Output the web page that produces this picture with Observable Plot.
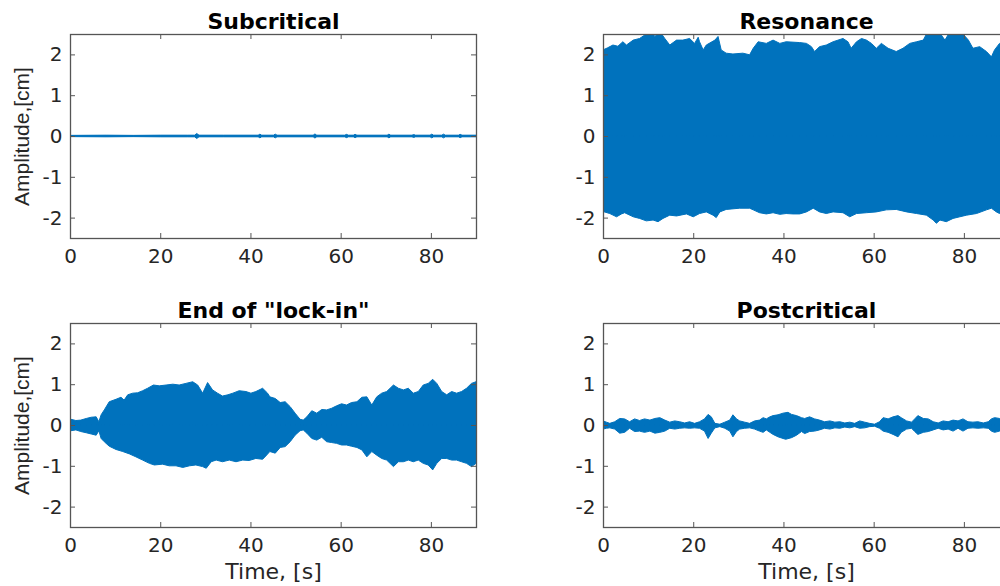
<!DOCTYPE html>
<html>
<head>
<meta charset="utf-8">
<script src="https://cdn.jsdelivr.net/npm/d3@7"></script>
<script src="https://cdn.jsdelivr.net/npm/@observablehq/plot@0.6"></script>
<style>
  html, body { margin: 0; padding: 0; background: #fff; overflow: hidden; }
  #fig { position: relative; width: 1000px; height: 586px; overflow: hidden; background: #fff; }
  #fig svg { position: absolute; }
</style>
</head>
<body>
<div id="fig"></div>
<script>
// Vibration records of the cylinder: upper and lower envelopes of the
// displacement signal, [time s, amplitude cm].

const panelTitles = ["Subcritical", "Resonance", "End of \"lock-in\"", "Postcritical"];
const xTicks = [0, 20, 40, 60, 80];
const yTicks = [-2, -1, 0, 1, 2];

const subcriticalUpper = [
  [0, 0.015], [8, 0.02], [14, 0.015], [20, 0.02], [26, 0.02], [27.6, 0.02], [28.1, 0.06], [28.6, 0.02],
  [34, 0.02], [41.7, 0.02], [42.1, 0.045], [42.5, 0.02], [45.1, 0.02], [45.5, 0.045], [45.9, 0.02],
  [53.9, 0.02], [54.3, 0.05], [54.7, 0.02], [60.9, 0.02], [61.3, 0.04], [61.7, 0.02], [62.8, 0.02],
  [63.2, 0.04], [63.6, 0.02], [70.3, 0.02], [70.7, 0.045], [71.1, 0.02], [75.8, 0.02], [76.2, 0.035],
  [76.6, 0.02], [79.8, 0.02], [80.2, 0.045], [80.6, 0.02], [82.4, 0.02], [82.8, 0.045], [83.2, 0.02],
  [86.1, 0.02], [86.5, 0.04], [86.9, 0.02], [90, 0.02]
];
const subcriticalLower = [
  [0, -0.015], [8, -0.02], [14, -0.015], [20, -0.02], [26, -0.02], [27.6, -0.02], [28.1, -0.06], [28.6, -0.02],
  [34, -0.02], [41.7, -0.02], [42.1, -0.045], [42.5, -0.02], [45.1, -0.02], [45.5, -0.045], [45.9, -0.02],
  [53.9, -0.02], [54.3, -0.05], [54.7, -0.02], [60.9, -0.02], [61.3, -0.04], [61.7, -0.02], [62.8, -0.02],
  [63.2, -0.04], [63.6, -0.02], [70.3, -0.02], [70.7, -0.045], [71.1, -0.02], [75.8, -0.02], [76.2, -0.035],
  [76.6, -0.02], [79.8, -0.02], [80.2, -0.045], [80.6, -0.02], [82.4, -0.02], [82.8, -0.045], [83.2, -0.02],
  [86.1, -0.02], [86.5, -0.04], [86.9, -0.02], [90, -0.02]
];

const resonanceUpper = [
  [0, 2.11], [1, 2.16], [2.2, 2.23], [3.3, 2.2], [4.4, 2.31], [5.2, 2.23], [6.7, 2.35], [8.1, 2.39],
  [9.6, 2.5], [10.7, 2.56], [11.5, 2.44], [12.6, 2.56], [13.7, 2.39], [14.8, 2.23], [16.3, 2.35],
  [17.7, 2.35], [19.2, 2.39], [20.3, 2.27], [21.1, 2.42], [21.4, 2.31], [22.2, 2.11], [22.9, 2.23],
  [24.8, 2.35], [25.5, 2.44], [26.2, 2.11], [27.3, 2.03], [28.8, 2.01], [31, 2.03], [32.5, 1.99],
  [33.3, 2.15], [34.4, 2.31], [36.2, 2.27], [37.7, 2.35], [39.2, 2.27], [40.6, 2.31], [43.6, 2.29],
  [45.1, 2.27], [46.2, 2.19], [46.9, 2.07], [48, 2.19], [49.5, 2.23], [51, 2.31], [53.2, 2.39],
  [54.3, 2.31], [55, 2.15], [56.2, 2.31], [57.3, 2.39], [58.4, 2.35], [59.5, 2.27], [60.6, 2.15],
  [61.7, 2.27], [63.2, 2.15], [65, 2.07], [66.5, 2.15], [68, 2.27], [69.5, 2.31], [71, 2.35],
  [71.7, 2.5], [73.2, 2.58], [74.7, 2.52], [75.8, 2.35], [76.5, 2.48], [78, 2.52], [79.8, 2.5],
  [81, 2.35], [82, 2.15], [83.5, 2.19], [85, 2.07], [86.1, 1.94], [86.8, 2.11], [87.9, 2.27], [90, 2.25]
];
const resonanceLower = [
  [0, -1.85], [1.5, -1.9], [3, -1.98], [4.1, -1.91], [4.8, -1.88], [6.7, -1.98], [8.1, -2.02],
  [9.6, -2.08], [11.1, -2.06], [12.2, -2.1], [13.3, -2.02], [14.8, -1.94], [16.3, -1.96], [18.5, -1.91],
  [20, -1.98], [21.4, -1.9], [22.9, -1.86], [24.4, -1.94], [25.1, -2], [25.9, -1.86], [27.3, -1.8],
  [30.3, -1.77], [32.5, -1.77], [33.3, -1.81], [34.7, -1.88], [36.2, -1.91], [37.7, -1.88], [39.2, -1.92],
  [40.6, -1.9], [42.1, -1.91], [43.6, -1.91], [45.1, -1.86], [46.6, -1.77], [48, -1.86], [49.5, -1.9],
  [51, -1.86], [53.2, -1.88], [54.7, -1.98], [56.2, -1.9], [58.4, -1.88], [60.6, -1.86], [62.8, -1.81],
  [65, -1.8], [67.3, -1.86], [69.5, -1.9], [71.7, -1.94], [73.2, -2.06], [73.9, -2.14], [74.7, -2.06],
  [76.1, -2.1], [77.6, -2.02], [79.1, -1.98], [80.6, -1.94], [82.8, -1.9], [85, -1.81], [86.1, -1.77],
  [87.2, -1.86], [87.9, -1.9], [90, -1.88]
];

const lockInUpper = [
  [0, 0.14], [0.2, 0.14], [1.3, 0.11], [2.4, 0.12], [3.6, 0.16], [4.7, 0.19], [5.8, 0.2], [6.4, 0.08],
  [6.9, 0.25], [7.6, 0.37], [8.7, 0.57], [10.2, 0.63], [11.3, 0.68], [12, 0.61], [12.8, 0.74],
  [13.9, 0.78], [15, 0.79], [16.1, 0.84], [17.2, 0.9], [18.5, 0.98], [19.8, 0.96], [21.3, 0.98],
  [22.8, 1], [24.2, 0.98], [25.7, 1.02], [27.2, 1.06], [28.3, 0.98], [29.4, 0.78], [30.5, 1.04],
  [31.6, 0.86], [32.7, 0.78], [33.8, 0.71], [35, 0.74], [36.1, 0.78], [37.5, 0.84], [39, 0.82],
  [40.1, 0.78], [41.2, 0.82], [42.7, 0.9], [43.8, 0.78], [44.3, 0.69], [45.5, 0.65], [46.6, 0.55],
  [47.7, 0.57], [48.8, 0.45], [49.9, 0.29], [51, 0.14], [51.7, 0.12], [52.5, 0.2], [53.6, 0.35],
  [54.7, 0.29], [55.8, 0.38], [56.9, 0.37], [58, 0.41], [59.1, 0.47], [60.2, 0.52], [61.3, 0.49],
  [62.4, 0.55], [63.6, 0.57], [64.7, 0.68], [65.8, 0.69], [66.9, 0.49], [68, 0.69], [69.1, 0.78],
  [70.2, 0.82], [71.7, 0.98], [72.8, 0.9], [73.9, 0.86], [75, 0.9], [76.1, 0.78], [77.2, 0.82],
  [78.3, 0.98], [79.4, 1.02], [80.4, 1.12], [81.3, 1.02], [82.4, 0.82], [83.5, 0.74], [84.6, 0.82],
  [85.7, 0.78], [86.8, 0.82], [87.9, 0.9], [89, 1.02], [90, 1.06]
];
const lockInLower = [
  [0, -0.14], [0.2, -0.14], [1.3, -0.12], [2.4, -0.16], [3.6, -0.19], [4.7, -0.22], [5.8, -0.25],
  [6.4, -0.14], [6.9, -0.33], [7.6, -0.41], [8.7, -0.52], [10.2, -0.6], [11.7, -0.65], [13.2, -0.71],
  [14.6, -0.78], [16.1, -0.86], [17.6, -0.94], [18.7, -0.98], [20.5, -0.96], [22, -1], [23.5, -1],
  [25, -1.04], [26.5, -1], [27.9, -0.98], [29.4, -1.02], [30.2, -1.06], [31.3, -0.9], [32.4, -0.86],
  [33.8, -0.9], [35.3, -0.86], [36.8, -0.9], [38.3, -0.86], [39.7, -0.87], [41.2, -0.82], [42.7, -0.84],
  [43.4, -0.76], [44.3, -0.65], [45.5, -0.69], [46.6, -0.55], [47.7, -0.53], [48.8, -0.41], [49.9, -0.25],
  [51, -0.14], [51.7, -0.12], [52.5, -0.2], [53.6, -0.33], [54.7, -0.37], [55.8, -0.3], [56.9, -0.41],
  [58, -0.43], [59.1, -0.45], [60.2, -0.49], [61.3, -0.49], [62.4, -0.52], [63.6, -0.55], [64.7, -0.61],
  [65.8, -0.78], [66.9, -0.65], [68, -0.74], [69.1, -0.82], [70.2, -0.86], [71.7, -1.02], [72.8, -0.9],
  [73.9, -0.9], [75, -0.86], [76.1, -0.9], [77.2, -0.86], [78.3, -0.94], [79.4, -0.98], [80.4, -1.1],
  [81.3, -0.94], [82.4, -0.82], [83.5, -0.82], [84.6, -0.86], [85.7, -0.86], [86.8, -0.9], [87.9, -0.94],
  [89, -1.02], [90, -0.94]
];

const postcriticalUpper = [
  [0, 0.1], [0.75, 0.07], [1.5, 0.04], [2.6, 0.08], [3.7, 0.16], [4.8, 0.15], [5.9, 0.08], [7, 0.15],
  [8.1, 0.11], [9.2, 0.15], [10.4, 0.12], [11.5, 0.16], [12.6, 0.18], [13.7, 0.12], [14.8, 0.07],
  [15.9, 0.1], [17, 0.08], [18.1, 0.05], [19.2, 0.08], [20.3, 0.04], [21.4, 0.08], [22.5, 0.15],
  [23.3, 0.26], [24, 0.2], [24.8, 0.04], [25.9, 0.02], [27, 0.07], [28.1, 0.12], [28.8, 0.25],
  [29.6, 0.15], [30.3, 0.1], [31.4, 0.07], [32.5, 0.04], [33.6, 0.1], [34.7, 0.12], [35.5, 0.18],
  [36.2, 0.15], [37, 0.2], [37.7, 0.23], [38.8, 0.25], [39.9, 0.29], [41, 0.31], [41.8, 0.26],
  [42.9, 0.23], [44, 0.18], [44.7, 0.16], [45.8, 0.2], [46.9, 0.15], [48, 0.12], [49.1, 0.08],
  [50.3, 0.1], [51.4, 0.07], [52.5, 0.08], [53.6, 0.05], [54.7, 0.07], [55.8, 0.04], [56.9, 0.1],
  [58, 0.07], [59.1, 0.04], [60.2, 0.02], [61.3, 0.08], [62.1, 0.18], [63.2, 0.15], [64.3, 0.2],
  [65.4, 0.23], [66.1, 0.18], [67.3, 0.1], [68.4, 0.07], [69.1, 0.15], [69.8, 0.23], [71, 0.16],
  [72.1, 0.15], [73.2, 0.08], [74.3, 0.05], [75.4, 0.1], [76.5, 0.08], [77.6, 0.12], [78.7, 0.1],
  [79.8, 0.15], [80.9, 0.08], [82, 0.07], [83.1, 0.08], [84.3, 0.05], [85.4, 0.08], [86.1, 0.15],
  [86.8, 0.18], [87.9, 0.16], [90, 0.12]
];
const postcriticalLower = [
  [0, -0.1], [0.75, -0.08], [1.5, -0.07], [2.6, -0.1], [3.7, -0.2], [4.8, -0.18], [5.9, -0.08],
  [7, -0.16], [8.1, -0.15], [9.2, -0.18], [10.4, -0.15], [11.5, -0.2], [12.6, -0.18], [13.7, -0.15],
  [14.8, -0.08], [15.9, -0.1], [17, -0.08], [18.1, -0.07], [19.2, -0.08], [20.3, -0.07], [21.4, -0.08],
  [22.5, -0.15], [23.3, -0.33], [24, -0.2], [24.8, -0.07], [25.9, -0.04], [27, -0.08], [28.1, -0.15],
  [28.8, -0.29], [29.6, -0.16], [30.3, -0.1], [31.4, -0.08], [32.5, -0.07], [33.6, -0.1], [34.7, -0.15],
  [35.5, -0.18], [36.2, -0.12], [37, -0.18], [37.7, -0.23], [38.8, -0.29], [39.9, -0.33], [40.5, -0.35],
  [41.8, -0.31], [42.9, -0.25], [44, -0.16], [44.7, -0.21], [45.8, -0.16], [46.9, -0.15], [48, -0.12],
  [49.1, -0.08], [50.3, -0.1], [51.4, -0.07], [52.5, -0.08], [53.6, -0.05], [54.7, -0.07], [55.8, -0.04],
  [56.9, -0.08], [58, -0.07], [59.1, -0.04], [60.2, -0.03], [61.3, -0.08], [62.1, -0.15], [63.2, -0.18],
  [64.3, -0.23], [65.4, -0.29], [66.1, -0.18], [67.3, -0.1], [68.4, -0.08], [69.1, -0.16], [69.8, -0.23],
  [71, -0.18], [72.1, -0.16], [73.2, -0.12], [74.3, -0.08], [75.4, -0.12], [76.5, -0.1], [77.6, -0.15],
  [78.7, -0.08], [79.8, -0.15], [80.9, -0.08], [82, -0.07], [83.1, -0.08], [84.3, -0.07], [85.4, -0.08],
  [86.1, -0.15], [86.8, -0.18], [87.9, -0.15], [90, -0.12]
];

const BLUE = "#0072BD";
const AXIS = "#555555";
const TEXT = "#262626";
const FRAME_W = 406;
const FRAME_H = 204;
const TICK = 5;

function panel({title, upper, lower, left, top, marginBottom, yLabel, xLabel}) {
  const height = 34 + FRAME_H + marginBottom;
  const band = (rows) => Plot.areaY(rows, {
    x: (d) => d[0], y1: 0, y2: (d) => d[1],
    fill: BLUE, stroke: BLUE, strokeWidth: 1, clip: true
  });
  const marks = [
    band(upper),
    band(lower),
    // inward tick marks on all four sides of the box
    Plot.tickX(xTicks, {x: (d) => d, insetTop: FRAME_H - TICK, stroke: AXIS}),
    Plot.tickX(xTicks, {x: (d) => d, insetBottom: FRAME_H - TICK, stroke: AXIS}),
    Plot.tickY(yTicks, {y: (d) => d, insetRight: FRAME_W - TICK, stroke: AXIS}),
    Plot.tickY(yTicks, {y: (d) => d, insetLeft: FRAME_W - TICK, stroke: AXIS}),
    Plot.frame({stroke: AXIS, strokeWidth: 1.3}),
    Plot.text([title], {
      frameAnchor: "top", dy: -13, lineAnchor: "middle", textAnchor: "middle",
      fontFamily: "DejaVu Sans", fontWeight: "bold", fontSize: 22, fill: "#000"
    })
  ];
  if (yLabel) marks.push(Plot.text([yLabel], {
    frameAnchor: "left", dx: -48, rotate: -90, lineAnchor: "middle", textAnchor: "middle",
    fontFamily: "Liberation Sans", fontSize: 21, fill: TEXT
  }));
  if (xLabel) marks.push(Plot.text([xLabel], {
    frameAnchor: "bottom", dy: 44, lineAnchor: "middle", textAnchor: "middle",
    fontFamily: "DejaVu Sans", fontSize: 22, fill: TEXT
  }));
  const svg = Plot.plot({
    width: 70 + FRAME_W + 24,
    height,
    marginLeft: 70, marginRight: 24, marginTop: 34, marginBottom,
    style: {fontFamily: "DejaVu Sans", fontSize: "20px", color: TEXT, background: "transparent", overflow: "visible"},
    x: {domain: [0, 90], ticks: xTicks, tickSize: 0, tickPadding: 10, tickFormat: (d) => String(d), label: null},
    y: {domain: [-2.5, 2.5], ticks: yTicks, tickSize: 0, tickPadding: 8, tickFormat: (d) => String(d), label: null},
    marks
  });
  svg.style.left = left + "px";
  svg.style.top = top + "px";
  document.getElementById("fig").appendChild(svg);
}

panel({title: panelTitles[0], upper: subcriticalUpper, lower: subcriticalLower,
       left: 0, top: 0, marginBottom: 40, yLabel: "Amplitude,[cm]"});
panel({title: panelTitles[1], upper: resonanceUpper, lower: resonanceLower,
       left: 533, top: 0, marginBottom: 40});
panel({title: panelTitles[2], upper: lockInUpper, lower: lockInLower,
       left: 0, top: 289, marginBottom: 59, yLabel: "Amplitude,[cm]", xLabel: "Time, [s]"});
panel({title: panelTitles[3], upper: postcriticalUpper, lower: postcriticalLower,
       left: 533, top: 289, marginBottom: 59, xLabel: "Time, [s]"});
</script>
</body>
</html>
